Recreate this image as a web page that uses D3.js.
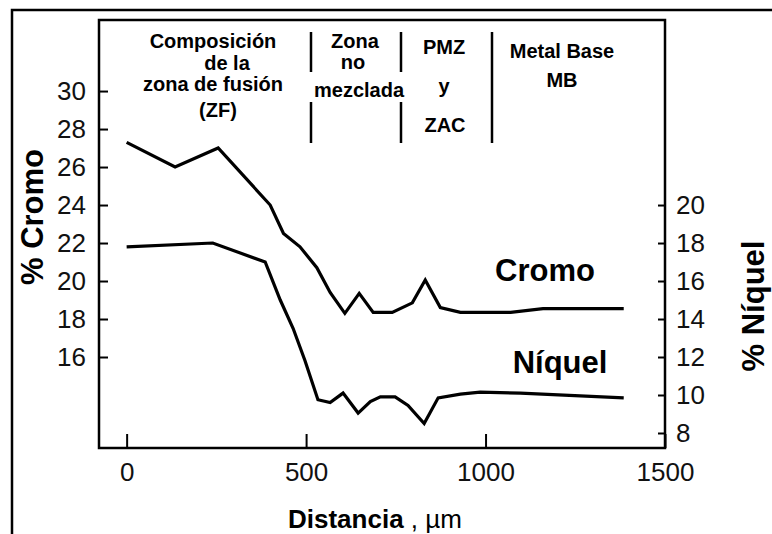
<!DOCTYPE html>
<html>
<head>
<meta charset="utf-8">
<script src="https://cdn.jsdelivr.net/npm/d3@7"></script>
<style>
  body { margin: 0; background: #fff; }
  svg { display: block; font-family: "Liberation Sans", Arial, sans-serif; }
</style>
</head>
<body>
<svg id="chart" width="772" height="534"></svg>
<script>
// distance (µm) and % values
var cromoX = [0, 135, 255, 400, 437, 483, 530, 567, 608, 648, 687, 740, 796, 832, 874, 930, 1070, 1160, 1385];
var cromoY = [27.3, 26.0, 27.0, 24.0, 22.5, 21.8, 20.7, 19.4, 18.3, 19.35, 18.35, 18.35, 18.85, 20.05, 18.6, 18.35, 18.35, 18.55, 18.55];
var niquelX = [0, 240, 386, 428, 464, 497, 533, 567, 603, 645, 679, 707, 748, 784, 829, 868, 930, 985, 1097, 1385];
var niquelY = [17.8, 18.0, 17.0, 15.0, 13.5, 11.8, 9.75, 9.6, 10.1, 9.05, 9.65, 9.9, 9.9, 9.45, 8.5, 9.85, 10.05, 10.15, 10.1, 9.85];

var xTicks = [0, 500, 1000, 1500];
var leftTicks = [16, 18, 20, 22, 24, 26, 28, 30];
var rightTicks = [8, 10, 12, 14, 16, 18, 20];

// zone headers: lines of text per zone
var zoneLabels = [
  ["Composición", "de la", "zona de fusión", "(ZF)"],
  ["Zona", "no", "mezclada"],
  ["PMZ", "y", "ZAC"],
  ["Metal Base", "MB"]
];

var svg = d3.select("#chart");

// plot box edges (px)
var boxL = 99, boxR = 665, boxT = 20, boxB = 448;

var x = d3.scaleLinear().domain([-77, 1500]).range([boxL, boxR]);
var yL = d3.scaleLinear().domain([11.21, 33.74]).range([boxB, boxT]);
var yR = d3.scaleLinear().domain([7.21, 29.74]).range([boxB, boxT]);

// outer frame of the figure
svg.append("path")
  .attr("d", "M12,534V10H772")
  .attr("fill", "none")
  .attr("stroke", "#000")
  .attr("stroke-width", 2.5);

// plot box
svg.append("rect")
  .attr("x", boxL).attr("y", boxT)
  .attr("width", boxR - boxL).attr("height", boxB - boxT)
  .attr("fill", "none")
  .attr("stroke", "#000")
  .attr("stroke-width", 2.5);

function styleAxis(g) {
  g.select(".domain").remove();
  g.selectAll(".tick line").attr("stroke", "#000").attr("stroke-width", 2);
  g.selectAll(".tick text")
    .attr("fill", "#111")
    .style("font-size", "26px")
    .style("font-family", "'Liberation Sans', Arial, sans-serif");
}

svg.append("g")
  .attr("transform", "translate(0," + boxB + ")")
  .call(d3.axisBottom(x).tickValues(xTicks).tickFormat(d3.format("d")).tickSize(-14).tickPadding(15))
  .call(styleAxis)
  .selectAll(".tick text").attr("dy", "0.71em");

svg.append("g")
  .attr("transform", "translate(" + boxL + ",0)")
  .call(d3.axisLeft(yL).tickValues(leftTicks).tickSize(-9).tickPadding(13))
  .call(styleAxis);

svg.append("g")
  .attr("transform", "translate(" + boxR + ",0)")
  .call(d3.axisRight(yR).tickValues(rightTicks).tickSize(-7).tickPadding(11))
  .call(styleAxis);

// lines
var lineL = d3.line().x(function (d) { return x(d[0]); }).y(function (d) { return yL(d[1]); });
var lineR = d3.line().x(function (d) { return x(d[0]); }).y(function (d) { return yR(d[1]); });

svg.append("path")
  .datum(d3.zip(cromoX, cromoY))
  .attr("d", lineL)
  .attr("fill", "none")
  .attr("stroke", "#000")
  .attr("stroke-width", 3.2);

svg.append("path")
  .datum(d3.zip(niquelX, niquelY))
  .attr("d", lineR)
  .attr("fill", "none")
  .attr("stroke", "#000")
  .attr("stroke-width", 3.2);

// series names
svg.append("text")
  .attr("x", 545).attr("y", 281)
  .attr("text-anchor", "middle")
  .style("font-size", "31px").style("font-weight", "bold")
  .text("Cromo");

svg.append("text")
  .attr("x", 560).attr("y", 373)
  .attr("text-anchor", "middle")
  .style("font-size", "31px").style("font-weight", "bold")
  .text("Níquel");

// zone separators (split ones leave a gap for the text)
var sepX = [311, 401];
sepX.forEach(function (sx) {
  svg.append("line").attr("x1", sx).attr("x2", sx).attr("y1", 32).attr("y2", 72)
    .attr("stroke", "#000").attr("stroke-width", 2.5);
  svg.append("line").attr("x1", sx).attr("x2", sx).attr("y1", 102).attr("y2", 143)
    .attr("stroke", "#000").attr("stroke-width", 2.5);
});
svg.append("line").attr("x1", 492).attr("x2", 492).attr("y1", 32).attr("y2", 143)
  .attr("stroke", "#000").attr("stroke-width", 2.5);

// zone header text
var zoneCx = [[213, 227, 213, 218], [355, 353, 359], [444, 444, 445], [562, 562]];
var zoneBy = [[48, 70, 91, 117], [48, 69, 97], [54, 93, 132], [58, 87]];
zoneLabels.forEach(function (lines, i) {
  lines.forEach(function (t, j) {
    svg.append("text")
      .attr("x", zoneCx[i][j]).attr("y", zoneBy[i][j])
      .attr("text-anchor", "middle")
      .style("font-size", "20px").style("font-weight", "bold")
      .text(t);
  });
});

// axis titles
svg.append("text")
  .attr("transform", "translate(43,217) rotate(-90)")
  .attr("text-anchor", "middle")
  .style("font-size", "31px").style("font-weight", "bold")
  .text("% Cromo");

svg.append("text")
  .attr("transform", "translate(764,306) rotate(-90)")
  .attr("text-anchor", "middle")
  .style("font-size", "31px").style("font-weight", "bold")
  .text("% Níquel");

var xt = svg.append("text")
  .attr("x", 288).attr("y", 528)
  .style("font-size", "26px");
xt.append("tspan").style("font-weight", "bold").text("Distancia");
xt.append("tspan").text(" , µm");
</script>
</body>
</html>
